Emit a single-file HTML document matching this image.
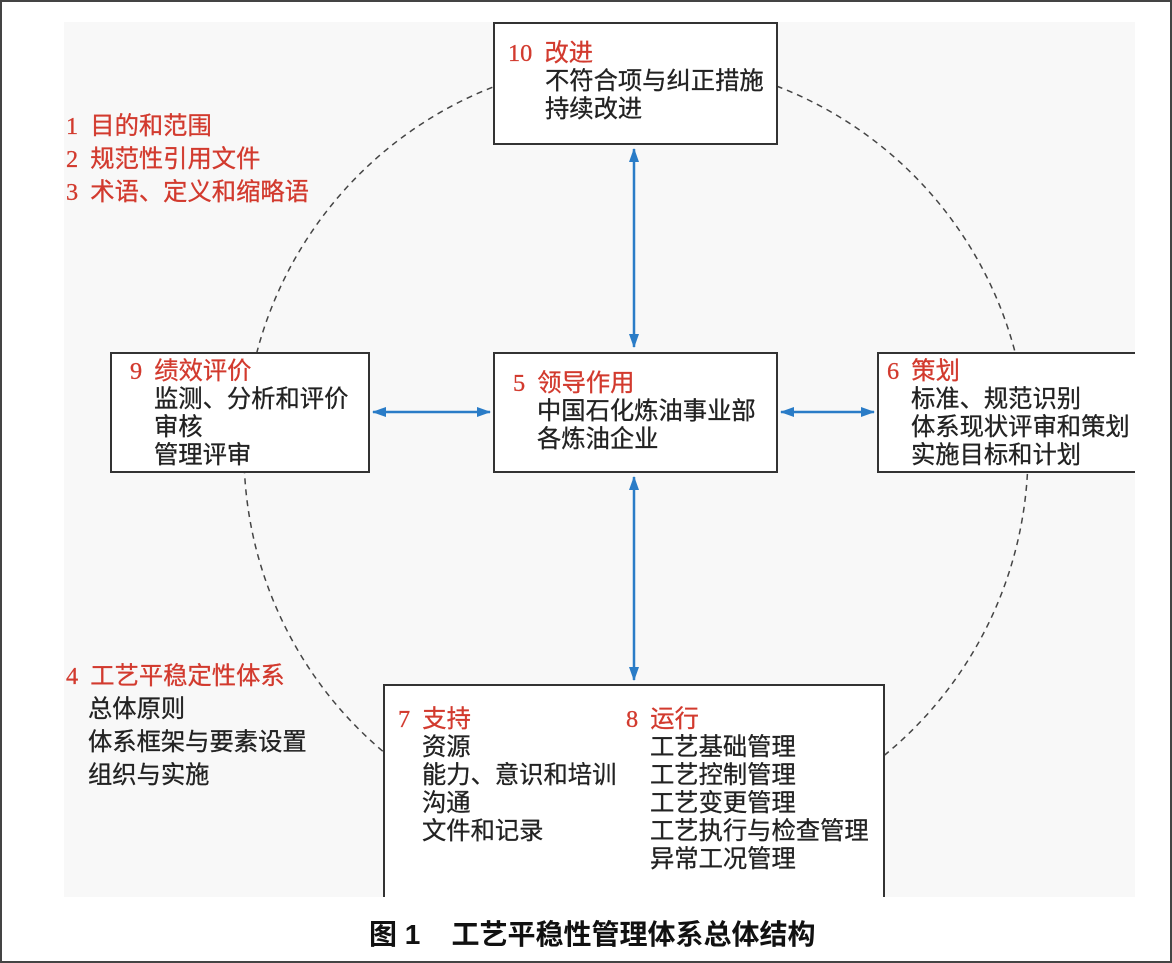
<!DOCTYPE html>
<html><head><meta charset="utf-8"><style>
body{margin:0;width:1172px;height:963px;background:#fff;font-family:"Liberation Serif","Noto Sans CJK SC",sans-serif;position:relative;overflow:hidden}
#inner{position:absolute;left:64px;top:22px;width:1071px;height:875px;background:#f8f8f8}
.box{position:absolute;border:2px solid #333;background:#fff;box-sizing:border-box}
.t{position:absolute;font-size:24.3px;line-height:28px;color:#222;white-space:nowrap;-webkit-text-stroke:0.3px #222}
.r{color:#d23a2e;-webkit-text-stroke:0.3px #d23a2e}
</style></head><body>
<div id="inner"></div>
<svg width="1172" height="963" style="position:absolute;left:0;top:0">
<circle cx="636" cy="452" r="392" fill="none" stroke="#444" stroke-width="1.5" stroke-dasharray="6,5"/>
</svg>
<div class="box" style="left:493px;top:22px;width:285px;height:123px"></div>
<div class="box" style="left:110px;top:352px;width:260px;height:121px"></div>
<div class="box" style="left:493px;top:352px;width:285px;height:121px"></div>
<div class="box" style="left:877px;top:352px;width:262px;height:121px"></div>
<div class="box" style="left:383px;top:684px;width:502px;height:230px;border-bottom:none"></div>
<div style="position:absolute;left:0;top:897px;width:1172px;height:62px;background:#fff"></div>
<div style="position:absolute;left:1135px;top:0;width:35px;height:959px;background:#fff"></div>
<div style="position:absolute;left:0;top:0;width:1168px;height:959px;border:2px solid #444"></div>
<svg width="1172" height="963" style="position:absolute;left:0;top:0">
<defs><marker id="a" markerWidth="14" markerHeight="10" refX="13" refY="5" orient="auto-start-reverse" markerUnits="userSpaceOnUse"><path d="M0,0 L14,5 L0,10 z" fill="#2a7cc7"/></marker></defs>
<g stroke="#2a7cc7" stroke-width="2.5" fill="none">
<line x1="634" y1="149" x2="634" y2="347" marker-start="url(#a)" marker-end="url(#a)"/>
<line x1="634" y1="477" x2="634" y2="680" marker-start="url(#a)" marker-end="url(#a)"/>
<line x1="373" y1="412" x2="490" y2="412" marker-start="url(#a)" marker-end="url(#a)"/>
<line x1="781" y1="412" x2="874" y2="412" marker-start="url(#a)" marker-end="url(#a)"/>
</g></svg>
<div class="t" style="left:508px;top:40px"><span class="r">10&nbsp; 改进</span><br><span style="padding-left:37px">不符合项与纠正措施</span><br><span style="padding-left:37px">持续改进</span></div>
<div class="t r" style="left:66px;top:110px;line-height:33px">1&nbsp; 目的和范围<br>2&nbsp; 规范性引用文件<br>3&nbsp; 术语、定义和缩略语</div>
<div class="t" style="left:130px;top:358px"><span class="r">9&nbsp; 绩效评价</span><br><span style="padding-left:24px">监测、分析和评价</span><br><span style="padding-left:24px">审核</span><br><span style="padding-left:24px">管理评审</span></div>
<div class="t" style="left:513px;top:370px"><span class="r">5&nbsp; 领导作用</span><br><span style="padding-left:24px">中国石化炼油事业部</span><br><span style="padding-left:24px">各炼油企业</span></div>
<div class="t" style="left:887px;top:358px"><span class="r">6&nbsp; 策划</span><br><span style="padding-left:24px">标准、规范识别</span><br><span style="padding-left:24px">体系现状评审和策划</span><br><span style="padding-left:24px">实施目标和计划</span></div>
<div class="t" style="left:66px;top:660px;line-height:33px"><span class="r">4&nbsp; 工艺平稳定性体系</span><br><span style="padding-left:22px">总体原则</span><br><span style="padding-left:22px">体系框架与要素设置</span><br><span style="padding-left:22px">组织与实施</span></div>
<div class="t" style="left:398px;top:706px"><span class="r">7&nbsp; 支持</span><br><span style="padding-left:24px">资源</span><br><span style="padding-left:24px">能力、意识和培训</span><br><span style="padding-left:24px">沟通</span><br><span style="padding-left:24px">文件和记录</span></div>
<div class="t" style="left:626px;top:706px"><span class="r">8&nbsp; 运行</span><br><span style="padding-left:24px">工艺基础管理</span><br><span style="padding-left:24px">工艺控制管理</span><br><span style="padding-left:24px">工艺变更管理</span><br><span style="padding-left:24px">工艺执行与检查管理</span><br><span style="padding-left:24px">异常工况管理</span></div>
<div class="t" style="left:369px;top:917px;font-size:28px;line-height:36px;font-weight:bold;font-family:'Liberation Sans','Noto Sans CJK SC',sans-serif;color:#111;-webkit-text-stroke:0">图 1&nbsp;&nbsp;&nbsp;&nbsp;工艺平稳性管理体系总体结构</div>
</body></html>
